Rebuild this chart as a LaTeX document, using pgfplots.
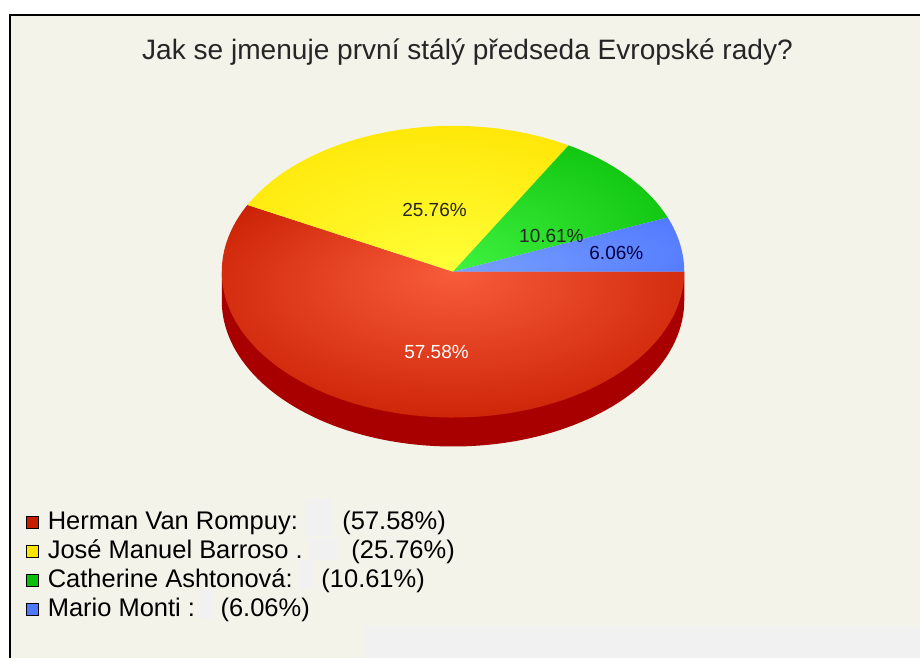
\documentclass[border=0pt]{standalone}
\usepackage{pgfplots}
\pgfplotsset{compat=1.18}
\usepackage{pgfplotstable}
\usepackage{fontspec}
\setmainfont{Liberation Sans}

% share of the votes, in %
\pgfplotstableread[col sep=comma]{
value,name
57.58,Herman Van Rompuy:
25.76,José Manuel Barroso .
10.61,Catherine Ashtonová:
6.06,Mario Monti :
}\votes

\pgfplotstablegetelem{0}{value}\of\votes \let\vred\pgfplotsretval
\pgfplotstablegetelem{1}{value}\of\votes \let\vyellow\pgfplotsretval
\pgfplotstablegetelem{2}{value}\of\votes \let\vgreen\pgfplotsretval
\pgfplotstablegetelem{3}{value}\of\votes \let\vblue\pgfplotsretval

% slice boundaries, counter-clockwise from the east
\pgfmathsetmacro{\aA}{3.6*\vblue}
\pgfmathsetmacro{\aB}{\aA+3.6*\vgreen}
\pgfmathsetmacro{\aC}{\aB+3.6*\vyellow}

% pie geometry in pixels
\def\cx{453.5}
\def\cy{387}
\def\R{231.5}
\def\r{146}
\def\d{29}

\definecolor{bg}{RGB}{243,243,234}
\definecolor{patch}{RGB}{241,241,241}
\definecolor{side}{RGB}{168,0,0}
\definecolor{lred}{RGB}{200,30,0}
\definecolor{lyellow}{RGB}{255,228,0}
\definecolor{lgreen}{RGB}{10,190,10}
\definecolor{lblue}{RGB}{80,120,255}

\pgfdeclareradialshading{redglow}{\pgfpoint{0bp}{9bp}}{rgb(0bp)=(0.97,0.36,0.23); rgb(34bp)=(0.78,0.11,0.0); rgb(50bp)=(0.78,0.11,0.0)}
\pgfdeclareradialshading{yellowglow}{\pgfpoint{7bp}{-25bp}}{rgb(0bp)=(1,1,0.22); rgb(40bp)=(1,0.89,0.0); rgb(50bp)=(1,0.89,0.0)}
\pgfdeclareradialshading{greenglow}{\pgfpoint{-25bp}{-25bp}}{rgb(0bp)=(0.25,0.95,0.25); rgb(40bp)=(0.04,0.75,0.04); rgb(50bp)=(0.04,0.75,0.04)}
\pgfdeclareradialshading{blueglow}{\pgfpoint{-25bp}{-25bp}}{rgb(0bp)=(0.47,0.63,1); rgb(40bp)=(0.32,0.47,1); rgb(50bp)=(0.32,0.47,1)}

\begin{document}
\begin{tikzpicture}
\begin{axis}[
  x=1pt, y=1pt,
  xmin=0, xmax=921, ymin=0, ymax=659,
  hide axis,
  clip=false,
  samples=90,
  legend style={draw=none, fill=none, at={(axis cs:26,149)}, anchor=north west,
    font=\fontsize{25.5}{29}\selectfont, row sep=0pt, inner sep=0pt,
    nodes={inner sep=0pt, text height=20pt, text depth=9pt},
    cells={anchor=west}},
  legend image code/.code={\draw[#1, draw=black, line width=0.9pt] (0pt,-4pt) rectangle (12pt,8pt);
    \path (21pt,-8pt);},
  legend cell align=left,
]
% page and frame
\fill[white] (axis cs:0,0) rectangle (axis cs:921,659);
\fill[bg] (axis cs:10,0) rectangle (axis cs:921,643.5);
\draw[black, line width=2pt] (axis cs:10,0) -- (axis cs:10,643.5) -- (axis cs:921,643.5);
% faint grey patches of the source
\fill[patch] (axis cs:365,0) rectangle (axis cs:921,32);
\fill[patch] (axis cs:305,122) rectangle (axis cs:332,159);
\fill[patch] (axis cs:310,98) rectangle (axis cs:337,120);
\fill[patch] (axis cs:300,69) rectangle (axis cs:313,98);
\fill[patch] (axis cs:200,40) rectangle (axis cs:213,69);

\node[font=\fontsize{28.1}{32}\selectfont, text=black!85] at (axis cs:468,607) {Jak se jmenuje první stálý předseda Evropské rady?};

% side of the pie
\addplot[forget plot, fill=side, draw=none, domain=180:360]
  ({\cx+\R*cos(x)}, {\cy-\d+\r*sin(x)}) -- (axis cs:\cx+\R,\cy) -- (axis cs:\cx-\R,\cy) -- cycle;

% top face
\addplot[forget plot, shading=redglow, draw=none, domain=\aC:360]
  ({\cx+\R*cos(x)}, {\cy+\r*sin(x)}) -- (axis cs:\cx,\cy) -- cycle;
\addplot[forget plot, shading=yellowglow, draw=none, domain=\aB:\aC]
  ({\cx+\R*cos(x)}, {\cy+\r*sin(x)}) -- (axis cs:\cx,\cy) -- cycle;
\addplot[forget plot, shading=greenglow, draw=none, domain=\aA:\aB]
  ({\cx+\R*cos(x)}, {\cy+\r*sin(x)}) -- (axis cs:\cx,\cy) -- cycle;
\addplot[forget plot, shading=blueglow, draw=none, domain=0:\aA]
  ({\cx+\R*cos(x)}, {\cy+\r*sin(x)}) -- (axis cs:\cx,\cy) -- cycle;

% slice labels
\begin{scope}[every node/.style={font=\fontsize{19}{22}\selectfont}]
\node[text=white] at (axis cs:437,307) {\vred\%};
\node[text=black!85] at (axis cs:435,449) {\vyellow\%};
\node[text=black!85] at (axis cs:552,423) {\vgreen\%};
\node[text=black!75!blue] at (axis cs:617,406) {\vblue\%};
\end{scope}

\addlegendimage{fill=lred}
\addlegendentry{\makebox[295pt][l]{Herman Van Rompuy:}(\vred\%)}
\addlegendimage{fill=lyellow}
\addlegendentry{\makebox[304pt][l]{José Manuel Barroso .}(\vyellow\%)}
\addlegendimage{fill=lgreen}
\addlegendentry{\makebox[274pt][l]{Catherine Ashtonová:}(\vgreen\%)}
\addlegendimage{fill=lblue}
\addlegendentry{\makebox[173pt][l]{Mario Monti :}(\vblue\%)}
\end{axis}
\end{tikzpicture}
\end{document}
